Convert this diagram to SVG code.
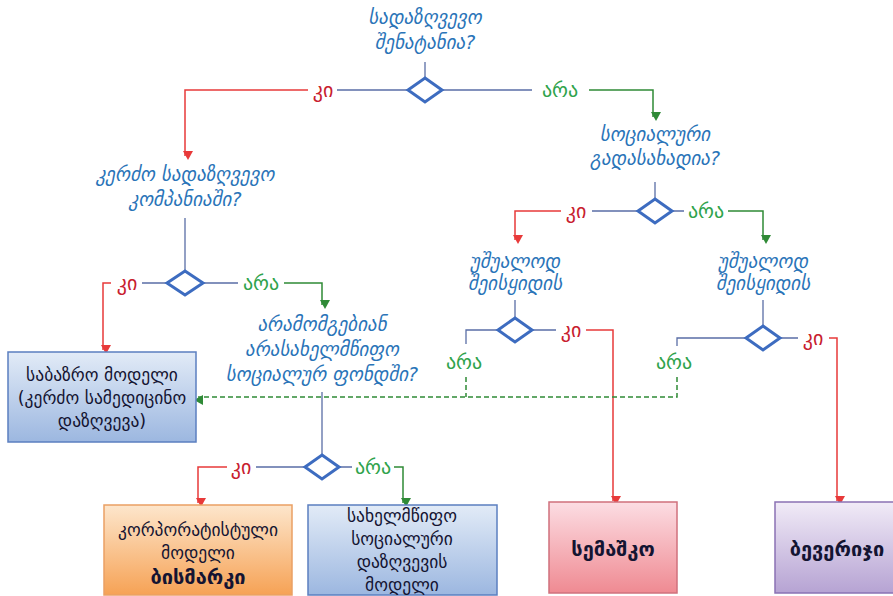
<svg xmlns="http://www.w3.org/2000/svg" width="893" height="596" viewBox="0 0 893 596">
<defs>
<style>
.q{font-family:"DejaVu Sans",sans-serif;font-style:italic;font-size:19px;fill:#2a74b8;text-anchor:middle}
.yes{font-family:"DejaVu Sans",sans-serif;font-size:20px;fill:#c8202e;text-anchor:middle}
.no{font-family:"DejaVu Sans",sans-serif;font-size:20px;fill:#2fa34c;text-anchor:middle}
.bt{font-family:"DejaVu Sans",sans-serif;font-size:17.5px;fill:#141432;text-anchor:middle}
.bb{font-family:"DejaVu Sans",sans-serif;font-size:20px;font-weight:bold;fill:#141432;text-anchor:middle}
.ln{fill:none;stroke:#5a6ea6;stroke-width:1.3}
.rd{fill:none;stroke:#e83a3a;stroke-width:1.5}
.gr{fill:none;stroke:#2f8a36;stroke-width:1.5}
.gd{fill:none;stroke:#2f8a36;stroke-width:1.5;stroke-dasharray:5 3}
.dm{fill:#fff;stroke:#3d6cc0;stroke-width:3;stroke-linejoin:miter}
</style>
<marker id="ar" markerWidth="10" markerHeight="10" refX="5" refY="8" orient="auto" markerUnits="userSpaceOnUse" viewBox="0 0 10 10"><path d="M0,0 L10,0 L5,9 Z" transform="rotate(-90 5 5)" fill="#e83a3a"/></marker>
<marker id="ag" markerWidth="10" markerHeight="10" refX="5" refY="8" orient="auto" markerUnits="userSpaceOnUse" viewBox="0 0 10 10"><path d="M0,0 L10,0 L5,9 Z" transform="rotate(-90 5 5)" fill="#2f8a36"/></marker>
<linearGradient id="gb" x1="0" y1="0" x2="0" y2="1"><stop offset="0" stop-color="#e2ebf7"/><stop offset="1" stop-color="#9cb7e0"/></linearGradient>
<linearGradient id="go" x1="0" y1="0" x2="0" y2="1"><stop offset="0" stop-color="#fde6cc"/><stop offset="1" stop-color="#f6a255"/></linearGradient>
<linearGradient id="gp" x1="0" y1="0" x2="0" y2="1"><stop offset="0" stop-color="#fcdde3"/><stop offset="1" stop-color="#ef8a92"/></linearGradient>
<linearGradient id="gv" x1="0" y1="0" x2="0" y2="1"><stop offset="0" stop-color="#f1ebf7"/><stop offset="1" stop-color="#b6a3d3"/></linearGradient>
</defs>
<rect width="893" height="596" fill="#fff"/>

<g id="connectors">
<path class="ln" d="M425 62V78M408 90H337M442 90H532"/>
<path class="rd" d="M308 90H185V156" marker-end="url(#ar)"/>
<path class="gr" d="M589 90H653V117" marker-end="url(#ag)"/>
<path class="ln" d="M655 182V199M638 211H592M672 211H684"/>
<path class="rd" d="M561 211H515V240" marker-end="url(#ar)"/>
<path class="gr" d="M728 211H763V240" marker-end="url(#ag)"/>
<path class="ln" d="M515 300V318M498 330H466V344M532 330H556"/>
<path class="rd" d="M586 330H613V501" marker-end="url(#ar)"/>
<path class="ln" d="M763 300V326M746 338H677V346M780 338H798"/>
<path class="rd" d="M829 338H837V501" marker-end="url(#ar)"/>
<path class="gd" d="M466 377V397M677 377V397H198" marker-end="url(#ag)"/>
<path class="ln" d="M185 218V271M167 283H142M203 283H238"/>
<path class="rd" d="M111 283H103V350" marker-end="url(#ar)"/>
<path class="gr" d="M284 283H322V305" marker-end="url(#ag)"/>
<path class="ln" d="M322 392V455M305 467H256M339 467H352"/>
<path class="rd" d="M227 467H198V503" marker-end="url(#ar)"/>
<path class="gr" d="M394 467H403V503" marker-end="url(#ag)"/>
</g>

<g id="labels">
<text class="yes" x="323" y="97">კი</text>
<text class="no" x="560" y="97">არა</text>
<text class="yes" x="576" y="218">კი</text>
<text class="no" x="706" y="218">არა</text>
<text class="no" x="464" y="369">არა</text>
<text class="yes" x="571" y="337">კი</text>
<text class="no" x="674" y="369">არა</text>
<text class="yes" x="813" y="345">კი</text>
<text class="yes" x="127" y="290">კი</text>
<text class="no" x="261" y="290">არა</text>
<text class="yes" x="241" y="474">კი</text>
<text class="no" x="373" y="474">არა</text>
</g>

<g id="q1"><text class="q" x="425" y="24">სადაზღვევო</text><text class="q" x="425" y="49">შენატანია?</text><path class="dm" d="M425 78L442 90L425 102L408 90Z"/></g>
<g id="q2"><text class="q" x="655" y="141">სოციალური</text><text class="q" x="655" y="165">გადასახადია?</text><path class="dm" d="M655 199L672 211L655 223L638 211Z"/></g>
<g id="q3"><text class="q" x="515" y="268">უშუალოდ</text><text class="q" x="515" y="290">შეისყიდის</text><path class="dm" d="M515 318L532 330L515 342L498 330Z"/></g>
<g id="q4"><text class="q" x="763" y="268">უშუალოდ</text><text class="q" x="763" y="290">შეისყიდის</text><path class="dm" d="M763 326L780 338L763 350L746 338Z"/></g>
<g id="q5"><text class="q" x="185" y="181">კერძო სადაზღვევო</text><text class="q" x="185" y="206">კომპანიაში?</text><path class="dm" d="M185 271L203 283L185 295L167 283Z"/></g>
<g id="q6"><text class="q" x="322" y="331">არამომგებიან</text><text class="q" x="322" y="356">არასახელმწიფო</text><text class="q" x="322" y="381">სოციალურ ფონდში?</text><path class="dm" d="M322 455L339 467L322 479L305 467Z"/></g>

<g id="market"><rect x="8" y="352" width="188" height="90" fill="url(#gb)" stroke="#5b7fc0" stroke-width="1.5"/><text class="bt" x="102" y="381">საბაზრო მოდელი</text><text class="bt" x="102" y="404">(კერძო სამედიცინო</text><text class="bt" x="102" y="427">დაზღვევა)</text></g>
<g id="bismarck"><rect x="104" y="505" width="188" height="90" fill="url(#go)" stroke="#eaa064" stroke-width="1.5"/><text class="bt" x="198" y="536">კორპორატისტული</text><text class="bt" x="198" y="559">მოდელი</text><text class="bb" x="198" y="584">ბისმარკი</text></g>
<g id="state"><rect x="308" y="505" width="189" height="90" fill="url(#gb)" stroke="#5b7fc0" stroke-width="1.5"/><text class="bt" x="402" y="522">სახელმწიფო</text><text class="bt" x="402" y="545">სოციალური</text><text class="bt" x="402" y="568">დაზღვევის</text><text class="bt" x="402" y="591">მოდელი</text></g>
<g id="semashko"><rect x="549" y="502" width="128" height="91" fill="url(#gp)" stroke="#d0707c" stroke-width="1.5"/><text class="bb" x="613" y="556">სემაშკო</text></g>
<g id="beveridge"><rect x="775" y="502" width="130" height="91" fill="url(#gv)" stroke="#8a72b4" stroke-width="1.5"/><text class="bb" x="837" y="556">ბევერიჯი</text></g>
</svg>
